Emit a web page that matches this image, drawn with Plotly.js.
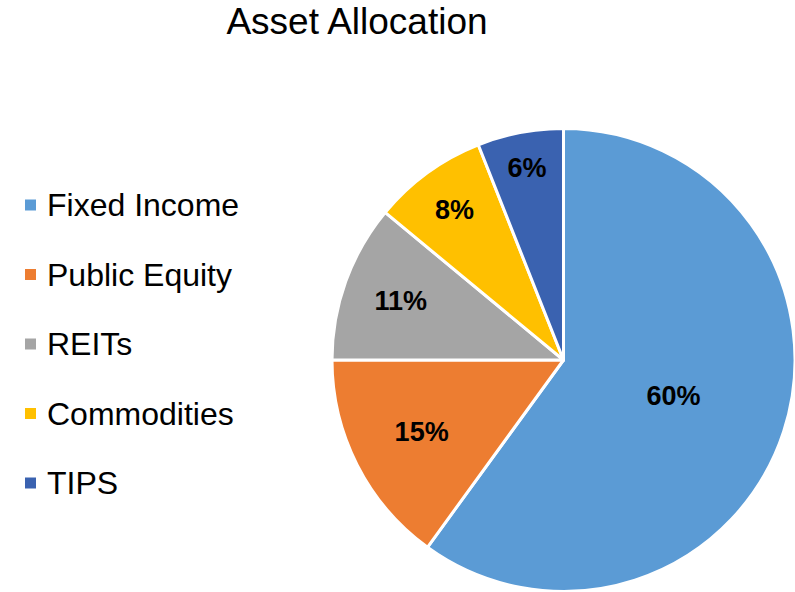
<!DOCTYPE html>
<html>
<head>
<meta charset="utf-8">
<script src="https://cdn.plot.ly/plotly-3.0.1.min.js"></script>
<style>
  html, body { margin: 0; padding: 0; background: #fff; }
  #chart { width: 795px; height: 592px; }
</style>
</head>
<body>
<div id="chart"></div>
<script>
// Asset allocation data
const labels = ['Fixed Income', 'Public Equity', 'REITs', 'Commodities', 'TIPS'];
const shares = [60, 15, 11, 8, 6];
const colors = ['#5B9BD5', '#ED7D31', '#A5A5A5', '#FFC000', '#3A62B0'];

const font = 'Arial, "Liberation Sans", sans-serif';
const W = 795, H = 592, TOP = 128;

const pie = {
    type: 'pie',
    labels: labels,
    values: shares,
    sort: false,
    direction: 'clockwise',
    rotation: 0,
    marker: { colors: colors, line: { color: '#ffffff', width: 3 } },
    texttemplate: '<b>%{value}%</b>',
    textposition: 'inside',
    insidetextorientation: 'horizontal',
    textfont: { family: font, size: 27, color: '#000000' },
    hoverinfo: 'label+percent',
    showlegend: false,
    domain: { x: [332 / W, 1], y: [0, 1] }
};

// Legend drawn by hand (Excel style, wide spacing between entries)
const legendTop = 205, legendStep = 69.5;
const toPaperY = px => (H - px) / (H - TOP);
const annotations = [];
const shapes = [];
labels.forEach((name, i) => {
    const yc = legendTop + i * legendStep;
    annotations.push({
        xref: 'paper', yref: 'paper',
        x: 45 / W, y: toPaperY(yc),
        xanchor: 'left', yanchor: 'middle',
        text: name,
        showarrow: false,
        font: { family: font, size: 32, color: '#000000' }
    });
    shapes.push({
        type: 'rect', xref: 'paper', yref: 'paper',
        x0: 25 / W, x1: 36 / W,
        y0: toPaperY(yc + 5.5), y1: toPaperY(yc - 5.5),
        fillcolor: colors[i], line: { width: 0 }
    });
});

const layout = {
    width: W,
    height: H,
    paper_bgcolor: '#ffffff',
    plot_bgcolor: '#ffffff',
    margin: { l: 0, r: 0, t: TOP, b: 0 },
    title: {
        text: 'Asset Allocation',
        font: { family: font, size: 37, color: '#000000' },
        x: 357 / W,
        xanchor: 'center',
        y: 1 - 21 / H,
        yanchor: 'middle'
    },
    showlegend: false,
    annotations: annotations,
    shapes: shapes
};

Plotly.newPlot('chart', [pie], layout, { displayModeBar: false });
</script>
</body>
</html>
